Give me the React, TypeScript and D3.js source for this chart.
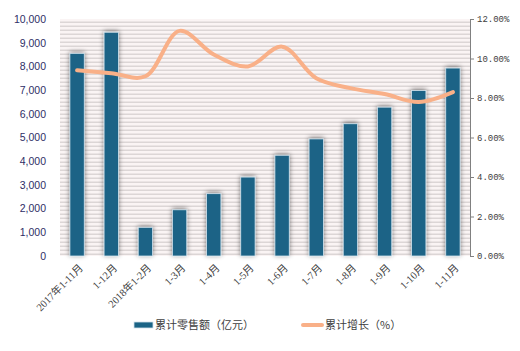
import * as d3 from "d3";
import { useEffect, useRef } from "react";

const categories = ["2017年1-11月", "1-12月", "2018年1-2月", "1-3月", "1-4月", "1-5月", "1-6月", "1-7月", "1-8月", "1-9月", "1-10月", "1-11月"];
const sales = [8550, 9440, 1210, 1950, 2630, 3330, 4250, 4940, 5580, 6280, 6980, 7930];
const growth = [9.4, 9.25, 9.1, 11.4, 10.2, 9.6, 10.6, 9.0, 8.5, 8.2, 7.8, 8.3];
const leftTicks = [0, 1000, 2000, 3000, 4000, 5000, 6000, 7000, 8000, 9000, 10000];
const rightTicks = [0, 2, 4, 6, 8, 10, 12];

const App = () => {
    const ref = useRef<SVGSVGElement>(null);

    useEffect(() => {
        const width = 520;
        const height = 351;
        const margin = { top: 19, right: 50, bottom: 95, left: 60 };
        const innerW = width - margin.left - margin.right;
        const innerH = height - margin.top - margin.bottom;

        const svg = d3.select(ref.current);
        svg.selectAll("*").remove();

        const defs = svg.append("defs");
        const pat = defs.append("pattern")
            .attr("id", "stripes")
            .attr("width", 8)
            .attr("height", 4)
            .attr("patternUnits", "userSpaceOnUse");
        pat.append("rect").attr("width", 8).attr("height", 4).attr("fill", "#faf4f4");
        pat.append("rect").attr("y", 2.6).attr("width", 8).attr("height", 1.2).attr("fill", "#d5cfcf");

        const shadow = defs.append("filter").attr("id", "shadow")
            .attr("x", "-60%").attr("y", "-20%").attr("width", "220%").attr("height", "140%");
        shadow.append("feGaussianBlur").attr("in", "SourceAlpha").attr("stdDeviation", 2.4).attr("result", "b");
        shadow.append("feOffset").attr("in", "b").attr("dx", 0).attr("dy", -1.5).attr("result", "o");
        shadow.append("feComponentTransfer").attr("in", "o").attr("result", "s")
            .append("feFuncA").attr("type", "linear").attr("slope", 0.5);
        const merge = shadow.append("feMerge");
        merge.append("feMergeNode").attr("in", "s");
        merge.append("feMergeNode").attr("in", "SourceGraphic");

        // frame
        svg.append("rect").attr("width", width).attr("height", height).attr("fill", "#d4d4d4");
        svg.append("rect").attr("x", 3).attr("y", 3).attr("width", width - 7).attr("height", height - 7)
            .attr("fill", "#ffffff").attr("rx", 2);

        const g = svg.append("g").attr("transform", `translate(${margin.left},${margin.top})`);

        const x = d3.scaleBand().domain(categories).range([0, innerW]).paddingInner(0.58).paddingOuter(0.29);
        const y = d3.scaleLinear().domain([0, 10000]).range([innerH, 0]);
        const y2 = d3.scaleLinear().domain([0, 12]).range([innerH, 0]);

        g.append("rect").attr("width", innerW).attr("height", innerH).attr("fill", "url(#stripes)");

        g.append("g")
            .selectAll("rect")
            .data(sales)
            .enter().append("rect")
            .attr("x", (d, i) => x(categories[i])!)
            .attr("y", d => y(d))
            .attr("width", x.bandwidth())
            .attr("height", d => innerH - y(d))
            .attr("fill", "#1b6486")
            .attr("stroke", "#d2e2ec")
            .attr("stroke-width", 0.8)
            .attr("filter", "url(#shadow)");

        const line = d3.line<number>()
            .x((d, i) => x(categories[i])! + x.bandwidth() / 2)
            .y(d => y2(d))
            .curve(d3.curveCatmullRom.alpha(0.5));

        g.append("path")
            .datum(growth)
            .attr("d", line)
            .attr("fill", "none")
            .attr("stroke", "#f9b088")
            .attr("stroke-width", 4)
            .attr("stroke-linecap", "round");

        // left axis
        const left = g.append("g")
            .call(d3.axisLeft(y).tickValues(leftTicks).tickFormat(d3.format(",")).tickSize(0).tickPadding(14));
        left.select(".domain").remove();
        left.selectAll("text")
            .attr("fill", "#2e2e66")
            .style("font-family", "'Liberation Sans', Arial, sans-serif")
            .style("font-size", "10.5px");

        // right axis
        const right = g.append("g")
            .attr("transform", `translate(${innerW},0)`)
            .call(d3.axisRight(y2).tickValues(rightTicks).tickFormat(d => d3.format(".2f")(d as number) + "%").tickSize(4).tickPadding(3));
        right.select(".domain").attr("stroke", "#808080");
        right.selectAll("line").attr("stroke", "#808080");
        right.selectAll("text")
            .attr("fill", "#404040")
            .style("font-family", "'Liberation Mono', 'DejaVu Sans Mono', monospace")
            .style("font-size", "9px");

        // x labels
        g.append("g")
            .selectAll("text")
            .data(categories)
            .enter().append("text")
            .attr("transform", d => `translate(${x(d)! + x.bandwidth() / 2 + 4},${innerH + 10}) rotate(-45)`)
            .attr("text-anchor", "end")
            .attr("dy", "0.35em")
            .attr("fill", "#404040")
            .style("font-family", "'Liberation Serif', 'Noto Sans CJK SC', serif")
            .style("font-size", "10.5px")
            .text(d => d);

        // legend
        const lg = svg.append("g").attr("transform", "translate(0,325)");
        lg.append("rect").attr("x", 134).attr("y", -3).attr("width", 19).attr("height", 6)
            .attr("fill", "#1b6486").attr("stroke", "#d2e2ec").attr("stroke-width", 0.8);
        lg.append("text").attr("x", 155).attr("dy", "0.36em")
            .attr("fill", "#404040")
            .style("font-family", "'Noto Sans CJK SC', sans-serif").style("font-size", "11px")
            .text("累计零售额（亿元）");
        lg.append("line").attr("x1", 303).attr("x2", 322).attr("y1", 0).attr("y2", 0)
            .attr("stroke", "#f9b088").attr("stroke-width", 4).attr("stroke-linecap", "round");
        lg.append("text").attr("x", 325).attr("dy", "0.36em")
            .attr("fill", "#404040")
            .style("font-family", "'Noto Sans CJK SC', sans-serif").style("font-size", "11px")
            .text("累计增长（%）");
    }, []);

    return (
        <div style={{ margin: -8 }}>
            <svg ref={ref} width={520} height={351} style={{ display: "block" }} />
        </div>
    );
};

export default App;
